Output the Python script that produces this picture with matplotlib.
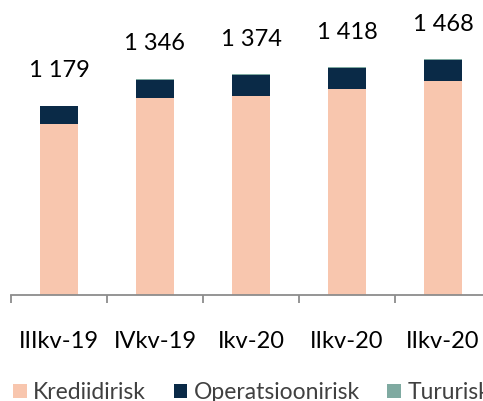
import numpy as np
import matplotlib.pyplot as plt
from matplotlib.ticker import FixedLocator

plt.rcParams['font.family'] = ['Lato', 'DejaVu Sans']

# --- data ---
quarters = ['IIIkv-19', 'IVkv-19', 'Ikv-20', 'IIkv-20', 'IIkv-20']
krediidirisk = [1063, 1228, 1239, 1285, 1331]
operatsioonirisk = [112, 114, 131, 129, 133]
tururisk = [4, 4, 4, 4, 4]

c_kred = '#F8C6AE'
c_oper = '#0A2A47'
c_turu = '#7FAAA1'

kred = np.array(krediidirisk)
oper = np.array(operatsioonirisk)
turu = np.array(tururisk)
total = kred + oper + turu
x = np.arange(len(quarters))

fig = plt.figure(figsize=(4.83, 4.01), dpi=100)
ax = fig.add_axes([11 / 483, 106 / 401, 480 / 483, 295 / 401])

w = 0.4
b1 = ax.bar(x, kred, w, color=c_kred, label='Krediidirisk')
b2 = ax.bar(x, oper, w, bottom=kred, color=c_oper, label='Operatsioonirisk')
b3 = ax.bar(x, turu, w, bottom=kred + oper, color=c_turu, label='Tururisk')

for xi, t in zip(x, total):
    lab = f'{t:,}'.replace(',', ' ')
    ax.annotate(lab, (xi, t), xytext=(0, 35), textcoords='offset pixels',
                ha='center', va='center', fontsize=17, color='black')

ax.set_xlim(-0.5, len(quarters) - 0.5)
ax.set_ylim(0, 1838)

for s in ['top', 'right', 'left']:
    ax.spines[s].set_visible(False)
ax.spines['bottom'].set_color('#8C8C8C')
ax.spines['bottom'].set_linewidth(1.3)
ax.set_yticks([])

# tick marks between categories, labels at category centres
ax.xaxis.set_major_locator(FixedLocator(np.arange(-0.5, len(quarters) + 0.5, 1)))
ax.xaxis.set_minor_locator(FixedLocator(x))
ax.tick_params(axis='x', which='major', length=6, width=1.3, color='#8C8C8C',
               labelbottom=False)
ax.tick_params(axis='x', which='minor', length=0, pad=26, labelsize=17)
ax.set_xticks(x, quarters, minor=True)

leg = fig.legend(handles=[b1, b2, b3], loc='upper left',
                 bbox_to_anchor=(13 / 483, 1 - 382 / 401),
                 ncol=3, frameon=False, fontsize=16.5, handlelength=0.6,
                 handleheight=0.6, handletextpad=0.28, columnspacing=1.2,
                 borderaxespad=0, borderpad=0)
for t in leg.get_texts():
    t.set_color('#404040')

fig.savefig('out.png', dpi=100)
